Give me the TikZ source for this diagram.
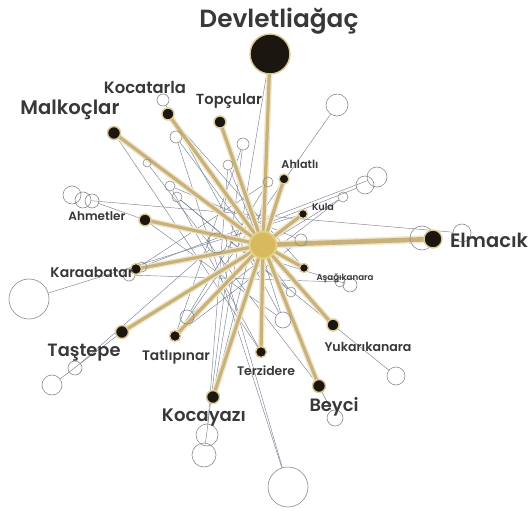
\documentclass[tikz,border=0pt]{standalone}
\usepackage{fontspec}
\setmainfont{Poppins}[BoldFont={Poppins SemiBold}]
\usepackage{graphicx}
\definecolor{goldcore}{HTML}{C8B27A}
\definecolor{goldglow}{HTML}{EFE6CB}
\definecolor{hubgold}{HTML}{D8B95E}
\definecolor{hubglow}{HTML}{E4CF88}
\definecolor{nodeblack}{HTML}{1C1610}
\definecolor{ringgold}{HTML}{DDCB98}
\definecolor{linegray}{HTML}{7E8494}
\definecolor{circgray}{HTML}{8C8C8C}
\definecolor{textgray}{HTML}{383838}
\newcommand\lw[2]{\resizebox{#1pt}{!}{\bfseries #2}}
\pgfdeclarelayer{bgfill}
\pgfdeclarelayer{back}
\pgfdeclarelayer{mid}
\pgfsetlayers{bgfill,back,mid,main}
\begin{document}
\begin{tikzpicture}[x=1pt,y=-1pt,
  opn/.style={circle, draw=circgray, line width=0.6pt, inner sep=0pt, minimum size=#1},
  blk/.style={circle, fill=nodeblack, draw=ringgold, line width=1.4pt, inner sep=0pt, minimum size=#1},
  hubnode/.style={circle, fill=hubgold, draw=hubglow, line width=2pt, inner sep=0pt, minimum size=27pt},
  grayline/.style={draw=linegray, line width=0.45pt},
  goldline/.style={draw=goldcore, line width=3.2pt, preaction={draw=goldglow, line width=6pt}},
  goldwide/.style={draw=goldcore, line width=4.6pt, preaction={draw=goldglow, line width=7.5pt}},
  lbl/.style={anchor=base, text=textgray, inner sep=0pt}
]
\useasboundingbox (0,0) rectangle (531,511);
\begin{pgfonlayer}{bgfill}
\fill[white] (0,0) rectangle (531,511);
\end{pgfonlayer}

% open circles
\node[opn=12] (o1) at (163,100) {};
\node[opn=12] (o2) at (176,137) {};
\node[opn=12] (o3) at (243,144) {};
\node[opn=10] (o4) at (228,165) {};
\node[opn=8] (o5) at (147,163) {};
\node[opn=10] (o6) at (170,186) {};
\node[opn=10] (o7) at (177,197) {};
\node[opn=10] (o8) at (268,182) {};
\node[opn=18] (o9) at (72,195) {};
\node[opn=16] (o10) at (83,200) {};
\node[opn=14] (o11) at (92,201) {};
\node[opn=10] (o12) at (343,197) {};
\node[opn=18] (o13) at (365,185) {};
\node[opn=20] (o14) at (377,177) {};
\node[opn=22] (o15) at (337,105) {};
\node[opn=20] (o16) at (217,243) {};
\node[opn=12] (o17) at (301,240) {};
\node[opn=24] (o18) at (422,238) {};
\node[opn=18] (o19) at (462,233) {};
\node[opn=10] (o20) at (142,267) {};
\node[opn=12] (o21) at (129,275) {};
\node[opn=40] (o22) at (29,299) {};
\node[opn=10] (o23) at (340,282) {};
\node[opn=14] (o24) at (350,285) {};
\node[opn=10] (o25) at (291,292) {};
\node[opn=16] (o26) at (283,320) {};
\node[opn=14] (o27) at (187,317) {};
\node[opn=14] (o28) at (75,368) {};
\node[opn=20] (o29) at (52,385) {};
\node[opn=18] (o30) at (396,376) {};
\node[opn=16] (o31) at (335,418) {};
\node[opn=22] (o32) at (207,435) {};
\node[opn=24] (o33) at (204,455) {};
\node[opn=40] (o34) at (288,487) {};

% black village nodes
\node[blk=40] (devlet) at (270,54) {};
\node[blk=12] (kocatarla) at (168,114) {};
\node[blk=12] (topcular) at (220,122) {};
\node[blk=13] (malkoclar) at (114,133) {};
\node[blk=10] (ahlatli) at (284,179) {};
\node[blk=9] (kula) at (303,214) {};
\node[blk=12] (ahmetler) at (145,220) {};
\node[blk=18] (elmacik) at (433,239) {};
\node[blk=11] (karaabatar) at (136,269) {};
\node[blk=9] (asagi) at (304,268) {};
\node[blk=13] (tastepe) at (122,332) {};
\node[blk=11] (tatli) at (175,336) {};
\node[blk=11] (terzi) at (261,352) {};
\node[blk=12] (yukari) at (333,325) {};
\node[blk=13] (kocayazi) at (213,397) {};
\node[blk=13] (beyci) at (319,386) {};
\node[hubnode] (hub) at (263,245) {};

% labels
\node[lbl] (lDevlet) at (279,28) {\lw{159}{Devletliağaç}};
\node[lbl] (lKocatarla) at (145,93) {\lw{82}{Kocatarla}};
\node[lbl] (lTopcular) at (229,104) {\lw{66}{Topçular}};
\node[lbl] (lMalkoclar) at (70,115) {\lw{99}{Malkoçlar}};
\node[lbl] (lAhlatli) at (300,169) {\lw{37}{Ahlatlı}};
\node[lbl] (lKula) at (323,211) {\lw{22}{Kula}};
\node[lbl] (lAhmetler) at (97,221) {\lw{57}{Ahmetler}};
\node[lbl] (lElmacik) at (489,247) {\lw{78}{Elmacık}};
\node[lbl] (lKaraabatar) at (92,277) {\lw{83}{Karaabatar}};
\node[lbl] (lAsagi) at (345,280) {\lw{57}{Aşağıkanara}};
\node[lbl] (lTastepe) at (84,356) {\lw{73}{Taştepe}};
\node[lbl] (lTatli) at (176,360) {\lw{68}{Tatlıpınar}};
\node[lbl] (lTerzi) at (266,375) {\lw{58}{Terzidere}};
\node[lbl] (lYukari) at (368,351) {\lw{87}{Yukarıkanara}};
\node[lbl] (lKocayazi) at (204,421) {\lw{84}{Kocayazı}};
\node[lbl] (lBeyci) at (334,411) {\lw{49}{Beyci}};

% thin gray connectors
\begin{pgfonlayer}{back}
\draw[grayline] (o15) -- (tatli);
\draw[grayline] (devlet) -- (kocayazi);
\draw[grayline] (o1) -- (o26);
\draw[grayline] (o2) -- (o34);
\draw[grayline] (o16) -- (o34);
\draw[grayline] (o2) -- (o25);
\draw[grayline] (o3) -- (o33);
\draw[grayline] (o4) -- (o32);
\draw[grayline] (o5) -- (beyci);
\draw[grayline] (o6) -- (o17);
\draw[grayline] (o7) -- (yukari);
\draw[grayline] (o8) -- (o27);
\draw[grayline] (o11) -- (ahmetler);
\draw[grayline] (o10) -- (o19);
\draw[grayline] (o14) -- (karaabatar);
\draw[grayline] (o13) -- (o16);
\draw[grayline] (o12) -- (tastepe);
\draw[grayline] (o22) -- (kula);
\draw[grayline] (o20) -- (o17);
\draw[grayline] (o21) -- (o23);
\draw[grayline] (o16) -- (o24);
\draw[grayline] (tastepe) -- (o29);
\draw[grayline] (yukari) -- (o30);
\draw[grayline] (beyci) -- (o31);
\draw[grayline] (malkoclar) -- (terzi);
\draw[grayline] (kocatarla) -- (asagi);
\draw[grayline] (topcular) -- (o26);
\draw[grayline] (karaabatar) -- (o8);
\draw[grayline] (tatli) -- (o3);
\draw[grayline] (o27) -- (o12);
\draw[grayline] (terzi) -- (o6);
\draw[grayline] (beyci) -- (o4);
\draw[grayline] (tatli) -- (o17);
\draw[grayline] (o28) -- (o16);
\draw[grayline] (o7) -- (o25);
\draw[grayline] (ahmetler) -- (o26);
\draw[grayline] (kocayazi) -- (o8);
\end{pgfonlayer}

% gold connectors
\begin{pgfonlayer}{mid}
\foreach \v in {devlet,kocatarla,topcular,malkoclar,ahlatli,kula,ahmetler,karaabatar,asagi,tastepe,tatli,terzi,yukari,kocayazi,beyci}
  \draw[goldline] (hub.center) -- (\v.center);
\draw[goldwide] (hub.center) -- (elmacik.center);
\end{pgfonlayer}
\end{tikzpicture}
\end{document}
